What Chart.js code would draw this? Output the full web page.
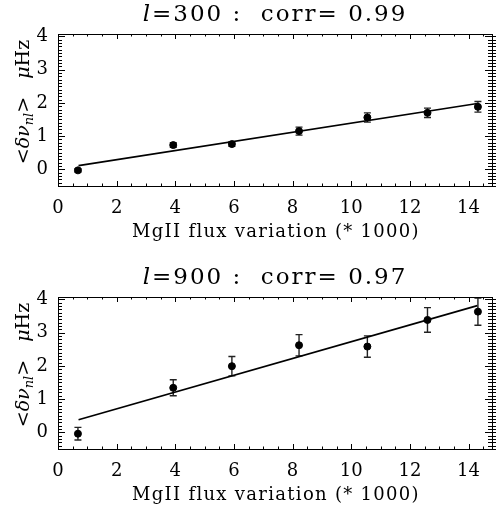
<!DOCTYPE html>
<html>
<head>
<meta charset="utf-8">
<script src="https://cdn.jsdelivr.net/npm/chart.js@4.4.1/dist/chart.umd.min.js"></script>
<style>
html, body { margin: 0; padding: 0; background: #fff; }
#wrap { position: relative; width: 497px; height: 511px; overflow: hidden; }
canvas { position: absolute; left: 0; }
</style>
</head>
<body>
<div id="wrap">
  <canvas id="c300" width="497" height="263" style="top:0px"></canvas>
  <canvas id="c900" width="497" height="248" style="top:263px"></canvas>
</div>
<script>
// MgII flux variation (* 1000)
var fluxX = [0.68, 3.93, 5.93, 8.22, 10.55, 12.6, 14.32];

// l=300 panel
var shift300 = [-0.03, 0.73, 0.76, 1.15, 1.56, 1.70, 1.88];
var err300   = [0.05, 0.07, 0.07, 0.12, 0.14, 0.14, 0.16];
var fit300X  = [0.7, 14.3];
var fit300Y  = [0.11, 1.98];

// l=900 panel
var shift900 = [-0.04, 1.34, 1.99, 2.62, 2.58, 3.38, 3.63];
var err900   = [0.19, 0.24, 0.29, 0.32, 0.32, 0.37, 0.41];
var fit900X  = [0.7, 14.3];
var fit900Y  = [0.38, 3.81];

var xTicks = [0, 2, 4, 6, 8, 10, 12, 14];
var yTicks = [0, 1, 2, 3, 4];

var FONT = "'DejaVu Serif', serif";
var AREA_TOP = 34, AREA_BOTTOM = 186, AREA_LEFT = 58, AREA_RIGHT = 493;

// error bars, drawn under the points
var errBars = {
  id: 'errBars',
  beforeDatasetsDraw: function(chart, args, opts) {
    var ctx = chart.ctx, xs = chart.scales.x, ys = chart.scales.y;
    ctx.save();
    ctx.strokeStyle = '#222';
    ctx.lineWidth = 1.4;
    for (var i = 0; i < opts.y.length; i++) {
      var px = xs.getPixelForValue(fluxX[i]);
      var top = ys.getPixelForValue(opts.y[i] + opts.err[i]);
      var bot = ys.getPixelForValue(opts.y[i] - opts.err[i]);
      ctx.beginPath();
      ctx.moveTo(px, top); ctx.lineTo(px, bot);
      ctx.moveTo(px - 3.5, top); ctx.lineTo(px + 3.5, top);
      ctx.moveTo(px - 3.5, bot); ctx.lineTo(px + 3.5, bot);
      ctx.stroke();
    }
    ctx.restore();
  }
};

// IDL style box with inward ticks, titles
var frameBox = {
  id: 'frameBox',
  afterDraw: function(chart, args, opts) {
    var ctx = chart.ctx, a = chart.chartArea;
    var xs = chart.scales.x, ys = chart.scales.y;
    ctx.save();
    ctx.strokeStyle = '#000';
    ctx.lineWidth = 1;
    ctx.strokeRect(Math.round(a.left) + 0.5, Math.round(a.top) + 0.5,
                   Math.round(a.right - a.left), Math.round(a.bottom - a.top));
    ctx.beginPath();
    // x ticks every 0.5
    for (var i = 0; i <= 29; i++) {
      var p = Math.round(xs.getPixelForValue(i / 2)) + 0.5;
      var len = (i % 4 == 0) ? 5 : 2.5;
      ctx.moveTo(p, a.bottom); ctx.lineTo(p, a.bottom - len);
      ctx.moveTo(p, a.top); ctx.lineTo(p, a.top + len);
    }
    // y ticks every 0.1
    for (var j = -5; j <= 40; j++) {
      var q = Math.round(ys.getPixelForValue(j / 10)) + 0.5;
      var l2 = (j % 10 == 0) ? 7 : 4;
      ctx.moveTo(a.left, q); ctx.lineTo(a.left + l2, q);
      ctx.moveTo(a.right, q); ctx.lineTo(a.right - l2, q);
      ctx.moveTo(a.right, q); ctx.lineTo(a.right + 4, q);
    }
    ctx.stroke();

    ctx.fillStyle = '#000';
    ctx.textBaseline = 'alphabetic';

    // title
    ctx.letterSpacing = '2px';
    var parts = [
      { t: 'l', f: 'italic 23px ' + FONT },
      { t: '=' + opts.degree + ' :  corr= ' + opts.corr, f: '23px ' + FONT }
    ];
    var w = 0;
    parts.forEach(function(p) { ctx.font = p.f; w += ctx.measureText(p.t).width; });
    var x0 = (a.left + a.right) / 2 - w / 2;
    parts.forEach(function(p) {
      ctx.font = p.f;
      ctx.fillText(p.t, x0, 21);
      x0 += ctx.measureText(p.t).width;
    });

    // x axis title
    ctx.letterSpacing = '1.3px';
    ctx.font = '18px ' + FONT;
    ctx.textAlign = 'center';
    ctx.fillText('MgII flux variation (* 1000)', (a.left + a.right) / 2 + 1, 237);
    ctx.textAlign = 'left';

    // y axis title, rotated
    ctx.letterSpacing = '0px';
    var yparts = [
      { t: '<', f: '19px ' + FONT, d: 0 },
      { t: '\u03b4\u03bd', f: 'italic 19px ' + FONT, d: 0 },
      { t: 'nl', f: 'italic 13px ' + FONT, d: 4 },
      { t: '>', f: '19px ' + FONT, d: 0 },
      { t: '   ', f: '19px ' + FONT, d: 0 },
      { t: '\u03bc', f: 'italic 19px ' + FONT, d: 0 },
      { t: 'Hz', f: '19px ' + FONT, d: 0 }
    ];
    var tw = 0;
    yparts.forEach(function(p) { ctx.font = p.f; tw += ctx.measureText(p.t).width; });
    ctx.translate(29, 102);
    ctx.rotate(-Math.PI / 2);
    var xx = -tw / 2;
    yparts.forEach(function(p) {
      ctx.font = p.f;
      ctx.fillText(p.t, xx, p.d);
      xx += ctx.measureText(p.t).width;
    });
    ctx.restore();
  }
};

function makePanel(id, degree, corr, ys, errs, fitX, fitY) {
  var canvas = document.getElementById(id);
  var pts = fluxX.map(function(x, i) { return { x: x, y: ys[i] }; });
  var fit = fitX.map(function(x, i) { return { x: x, y: fitY[i] }; });
  var bottomSpace = canvas.height - AREA_BOTTOM;
  return new Chart(canvas, {
    type: 'scatter',
    data: {
      datasets: [
        {
          type: 'line',
          data: fit,
          borderColor: '#000',
          borderWidth: 1.7,
          pointRadius: 0,
          fill: false
        },
        {
          data: pts,
          backgroundColor: '#000',
          borderColor: '#000',
          pointRadius: 3.5,
          pointStyle: 'circle'
        }
      ]
    },
    options: {
      responsive: false,
      animation: false,
      events: [],
      layout: { padding: { left: 0, right: canvas.width - AREA_RIGHT, top: AREA_TOP, bottom: 0 } },
      plugins: {
        legend: { display: false },
        tooltip: { enabled: false },
        errBars: { y: ys, err: errs },
        frameBox: { degree: degree, corr: corr }
      },
      scales: {
        x: {
          type: 'linear',
          min: 0, max: 14.8,
          grid: { display: false, drawTicks: false },
          border: { display: false },
          afterBuildTicks: function(s) { s.ticks = xTicks.map(function(v) { return { value: v }; }); },
          afterFit: function(s) { s.height = bottomSpace; },
          ticks: {
            padding: 12,
            color: '#000',
            maxRotation: 0,
            autoSkip: false,
            font: { family: FONT, size: 18 },
            callback: function(v) { return String(v); }
          }
        },
        y: {
          type: 'linear',
          min: -0.5, max: 4.07,
          grid: { display: false, drawTicks: false },
          border: { display: false },
          afterBuildTicks: function(s) { s.ticks = yTicks.map(function(v) { return { value: v }; }); },
          afterFit: function(s) { s.width = AREA_LEFT; },
          ticks: {
            padding: 10,
            color: '#000',
            autoSkip: false,
            font: { family: FONT, size: 18 },
            callback: function(v) { return String(v); }
          }
        }
      }
    },
    plugins: [errBars, frameBox]
  });
}

makePanel('c300', 300, '0.99', shift300, err300, fit300X, fit300Y);
makePanel('c900', 900, '0.97', shift900, err900, fit900X, fit900Y);
</script>
</body>
</html>
